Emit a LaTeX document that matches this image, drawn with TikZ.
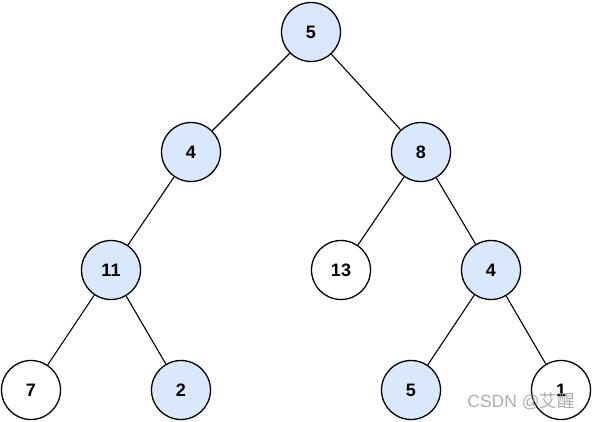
\documentclass[tikz,border=0pt]{standalone}
\usepackage{fontspec}
\setmainfont{Liberation Sans}
\newfontfamily\cjkfont{Noto Sans CJK SC}
\usetikzlibrary{positioning}
\definecolor{nodeblue}{HTML}{DAE8FC}

\begin{document}
\begin{tikzpicture}[x=1pt,y=-1pt,
  tn/.style={circle,draw=black,line width=1.3pt,minimum size=59pt,inner sep=0pt,
    font=\fontsize{18}{20}\selectfont\bfseries},
  hit/.style={tn,fill=nodeblue},
  miss/.style={tn,fill=white}]
  \useasboundingbox (0,0) rectangle (592,421);
  % nodes first, then the edges between them
  \node [hit]  (r)   at (311,32)  {5};
  \node [hit]  (l)   at (191,152) {4};
  \node [hit]  (rt)  at (421,152) {8};
  \node [hit]  (ll)  at (111,270) {11};
  \node [miss] (rl)  at (341,270) {13};
  \node [hit]  (rr)  at (491,270) {4};
  \node [miss] (lll) at (31,390)  {7};
  \node [hit]  (llr) at (181,390) {2};
  \node [hit]  (rrl) at (411,390) {5};
  \node [miss] (rrr) at (561,390) {1};
  \draw [line width=1.1pt] (r) -- (l);
  \draw [line width=1.1pt] (r) -- (rt);
  \draw [line width=1.1pt] (l) -- (ll);
  \draw [line width=1.1pt] (rt) -- (rl);
  \draw [line width=1.1pt] (rt) -- (rr);
  \draw [line width=1.1pt] (ll) -- (lll);
  \draw [line width=1.1pt] (ll) -- (llr);
  \draw [line width=1.1pt] (rr) -- (rrl);
  \draw [line width=1.1pt] (rr) -- (rrr);
  \node [text=gray!80,opacity=0.8,inner sep=0pt,font=\fontsize{17.5}{19}\selectfont] (mark) at (521,401)
    {CSDN @{\cjkfont 艾醒}};
\end{tikzpicture}
\end{document}
